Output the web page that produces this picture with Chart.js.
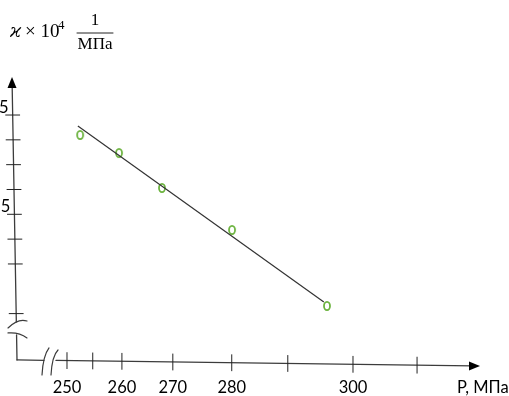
<!DOCTYPE html>
<html>
<head>
<meta charset="utf-8">
<script src="https://cdn.jsdelivr.net/npm/chart.js@4.4.1/dist/chart.umd.min.js"></script>
<style>
  html, body { margin: 0; padding: 0; background: #fff; }
  #wrap { position: relative; width: 509px; height: 396px; }
</style>
</head>
<body>
<div id="wrap"><canvas id="chart"></canvas></div>
<script>
// measured points: pressure P (MPa) and compressibility (x10^4, 1/MPa)
const pressure = [252.3, 259.1, 266.6, 278.85, 295.45];
const kappa = [3.299, 3.117, 2.765, 2.342, 1.577];

// straight line through the points (its two ends)
const fitP = [251.9, 294.9];
const fitK = [3.389, 1.617];

// tick marks as drawn on the axes
const xTicks = [250, 254.5, 259.6, 268.5, 278.8, 288.6, 300, 311.2];
const xTickLabels = ['250', '', '260', '270', '280', '', '300', ''];
const yTicks = [3.5, 3.25, 3.0, 2.75, 2.5, 2.25, 2.0, 1.5];
const yTickLabels = ['3.5', '', '', '', '2.5', '', '', ''];

// visible range of both axes
const xMin = 238.287, xMax = 327.273;
const yMin = 0.6701, yMax = 4.6584;

// axis corner and arrow ends
const axisFrom = { p: 241.26, k: 1.033 };
const axisTo = { p: 322.2, k: 3.883 };

// small green "o" used as the point marker
const ring = document.createElement('canvas');
ring.width = 10; ring.height = 12;
(() => {
  const c = ring.getContext('2d');
  c.strokeStyle = '#6CB33F';
  c.lineWidth = 1.8;
  c.beginPath();
  c.ellipse(5, 6, 3.0, 4.1, 0, 0, Math.PI * 2);
  c.stroke();
})();

// axes drawn by hand: slight tilt, arrows, breaks, ticks crossing the line
const handAxes = {
  id: 'handAxes',
  afterDatasetsDraw(chart) {
    const { ctx, scales: { x, y } } = chart;
    const ox = x.getPixelForValue(axisFrom.p);
    const oy = y.getPixelForValue(axisFrom.k);
    const xEnd = x.getPixelForValue(axisTo.p);
    const yTop = y.getPixelForValue(axisTo.k);
    const xSag = 6 / (xEnd - ox);
    const yLean = -5 / (oy - yTop);
    const axisYAt = px => oy + (px - ox) * xSag;
    const axisXAt = py => ox + (oy - py) * yLean;

    ctx.save();
    ctx.strokeStyle = '#3c3c3c';
    ctx.fillStyle = '#000';
    ctx.lineWidth = 1.3;
    ctx.lineCap = 'round';

    const line = (x1, y1, x2, y2) => {
      ctx.beginPath(); ctx.moveTo(x1, y1); ctx.lineTo(x2, y2); ctx.stroke();
    };
    // y axis, broken near the bottom
    line(axisXAt(yTop + 8), yTop + 8, axisXAt(oy - 38), oy - 38);
    line(axisXAt(oy - 25), oy - 25, ox, oy);
    // x axis, broken near the left
    line(ox, oy, ox + 27, axisYAt(ox + 27));
    line(ox + 39, axisYAt(ox + 39), xEnd - 8, axisYAt(xEnd - 8));

    // arrow heads
    ctx.beginPath();
    ctx.moveTo(axisXAt(yTop), yTop);
    ctx.lineTo(axisXAt(yTop) - 4.5, yTop + 11);
    ctx.lineTo(axisXAt(yTop) + 4.5, yTop + 11);
    ctx.closePath(); ctx.fill();
    const ay = axisYAt(xEnd);
    ctx.beginPath();
    ctx.moveTo(xEnd, ay);
    ctx.lineTo(xEnd - 11, ay - 4.5);
    ctx.lineTo(xEnd - 11, ay + 4.5);
    ctx.closePath(); ctx.fill();

    // break marks
    ctx.lineWidth = 1.2;
    ctx.beginPath();
    ctx.moveTo(ox - 9, oy - 32);
    ctx.quadraticCurveTo(ox + 1, oy - 42, ox + 10, oy - 39);
    ctx.moveTo(ox - 9, oy - 27);
    ctx.quadraticCurveTo(ox + 2, oy - 28, ox + 10, oy - 22);
    ctx.moveTo(ox + 25, oy + 15);
    ctx.quadraticCurveTo(ox + 26, oy - 4, ox + 32, oy - 12);
    ctx.moveTo(ox + 34, oy + 15);
    ctx.quadraticCurveTo(ox + 35, oy - 4, ox + 41, oy - 10);
    ctx.stroke();

    // ticks and their labels
    ctx.strokeStyle = '#222';
    ctx.lineWidth = 1;
    ctx.font = '16.5px Lato, "Open Sans", sans-serif';
    ctx.textAlign = 'center';
    ctx.textBaseline = 'alphabetic';
    xTicks.forEach((v, i) => {
      const px = x.getPixelForValue(v);
      const py = axisYAt(px);
      line(px, py - 8, px, py + 8);
      if (xTickLabels[i]) ctx.fillText(xTickLabels[i], px, 393);
    });
    ctx.textAlign = 'right';
    yTicks.forEach((v, i) => {
      const py = y.getPixelForValue(v);
      const px = axisXAt(py);
      line(px - 7, py, px + 7, py);
      if (yTickLabels[i]) ctx.fillText(yTickLabels[i], px - 4, py - 2);
    });
    ctx.textAlign = 'left';
    ctx.fillText('P, МПа', 457, 393);

    // quantity and units at the top of the y axis
    ctx.font = 'italic 18px "DejaVu Serif", serif';
    ctx.fillText('ϰ', 10, 37);
    ctx.font = '19px "Liberation Serif", serif';
    ctx.fillText('× 10', 25, 37);
    ctx.font = '13px "Liberation Serif", serif';
    ctx.fillText('4', 58, 29);
    ctx.font = '17px "Liberation Serif", serif';
    ctx.textAlign = 'center';
    ctx.fillText('1', 95, 25);
    ctx.fillText('МПа', 95, 49);
    ctx.lineWidth = 1;
    line(77, 33, 113, 33);
    ctx.restore();
  }
};

new Chart(document.getElementById('chart'), {
  type: 'scatter',
  data: {
    datasets: [
      {
        label: 'line',
        data: fitP.map((p, i) => ({ x: p, y: fitK[i] })),
        showLine: true,
        borderColor: '#333',
        borderWidth: 1.2,
        pointRadius: 0
      },
      {
        label: 'κ',
        data: pressure.map((p, i) => ({ x: p, y: kappa[i] })),
        pointStyle: ring,
        pointRadius: 5
      }
    ]
  },
  options: {
    responsive: true,
    maintainAspectRatio: false,
    animation: false,
    layout: { padding: 0, autoPadding: false },
    plugins: { legend: { display: false }, tooltip: { enabled: false } },
    scales: {
      x: { type: 'linear', display: false, min: xMin, max: xMax },
      y: { type: 'linear', display: false, min: yMin, max: yMax }
    }
  },
  plugins: [handAxes]
});
</script>
</body>
</html>
